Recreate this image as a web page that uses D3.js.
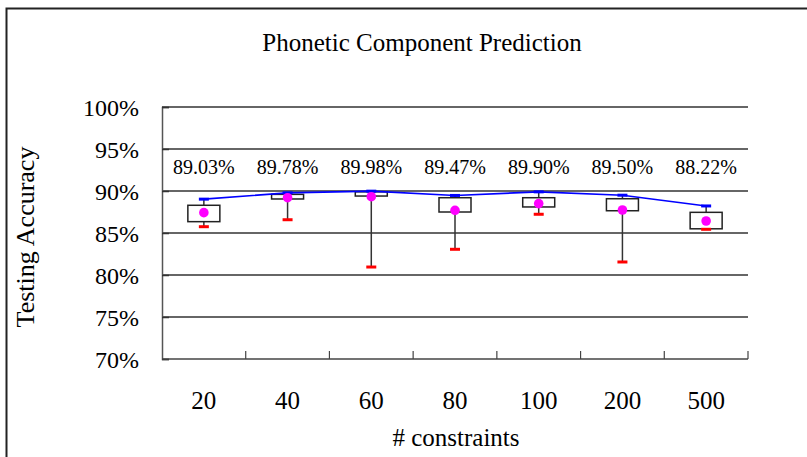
<!DOCTYPE html>
<html><head><meta charset="utf-8">
<script src="https://cdn.jsdelivr.net/npm/d3@7"></script>
<style>body{margin:0;background:#fff}svg{display:block}text{font-family:"Liberation Serif","Times New Roman",serif;fill:#000}</style>
</head><body><svg id="c" width="807" height="457"></svg>
<script>
const categories = ["20","40","60","80","100","200","500"];
const maxVals  = [89.03, 89.78, 89.98, 89.47, 89.90, 89.50, 88.22];
const q3Vals   = [88.30, 89.60, 89.90, 89.20, 89.20, 89.08, 87.46];
const q1Vals   = [86.35, 89.05, 89.40, 87.50, 88.10, 87.65, 85.50];
const meanVals = [87.42, 89.20, 89.32, 87.70, 88.50, 87.74, 86.43];
const minVals  = [85.75, 86.58, 80.95, 83.06, 87.23, 81.55, 85.44];
const labels   = ["89.03%","89.78%","89.98%","89.47%","89.90%","89.50%","88.22%"];
const yTicks   = [70,75,80,85,90,95,100];

const svg = d3.select("#c");
const L=162, R=748, T=107, B=359;
const x = d3.scaleBand().domain(categories).range([L,R]);
const y = d3.scaleLinear().domain([70,100]).range([B,T]);

svg.append("rect").attr("x",6.5).attr("y",8.5).attr("width",810).attr("height",460)
  .attr("fill","none").attr("stroke","#222").attr("stroke-width",2);

// gridlines
svg.append("g").selectAll("line").data(yTicks.slice(1)).join("line")
  .attr("x1",L).attr("x2",R).attr("y1",d=>y(d)).attr("y2",d=>y(d))
  .attr("stroke","#333").attr("stroke-width",1.3);

// y axis
const ya = svg.append("g").attr("transform",`translate(${L},0)`)
  .call(d3.axisLeft(y).tickValues(yTicks).tickFormat(d=>d+"%").tickSize(-7).tickPadding(23));
ya.select(".domain").attr("stroke","#555").attr("stroke-width",1.5);
ya.selectAll(".tick line").attr("stroke","#333").attr("stroke-width",1.5);
ya.selectAll("text").attr("font-size",24).attr("font-family","Liberation Serif").attr("fill","#000").attr("dy","0.34em");

// x axis
svg.append("line").attr("x1",L).attr("x2",R).attr("y1",B).attr("y2",B).attr("stroke","#444").attr("stroke-width",1.5);
const bounds = categories.map(c=>x(c)+x.bandwidth());
svg.append("g").selectAll("line").data(bounds).join("line")
  .attr("x1",d=>d).attr("x2",d=>d).attr("y1",B).attr("y2",B-8).attr("stroke","#444").attr("stroke-width",1.2);
svg.append("g").selectAll("text").data(categories).join("text")
  .attr("x",d=>x(d)+x.bandwidth()/2).attr("y",409).attr("text-anchor","middle")
  .attr("font-size",25).text(d=>d);

const cx = i => x(categories[i])+x.bandwidth()/2;
const idx = d3.range(categories.length);
const bw = 32, cap = 10;

// whiskers
svg.append("g").selectAll("line").data(idx).join("line")
  .attr("x1",cx).attr("x2",cx).attr("y1",i=>y(maxVals[i])).attr("y2",i=>y(minVals[i]))
  .attr("stroke","#333").attr("stroke-width",1.5);
// boxes
svg.append("g").selectAll("rect").data(idx).join("rect")
  .attr("x",i=>cx(i)-bw/2).attr("width",bw)
  .attr("y",i=>y(q3Vals[i])).attr("height",i=>y(q1Vals[i])-y(q3Vals[i]))
  .attr("fill","#fff").attr("stroke","#222").attr("stroke-width",1.5);
// blue line
svg.append("path").datum(idx)
  .attr("d",d3.line().x(cx).y(i=>y(maxVals[i])))
  .attr("fill","none").attr("stroke","#0000ff").attr("stroke-width",1.6);
// blue caps
svg.append("g").selectAll("line").data(idx).join("line")
  .attr("x1",i=>cx(i)-cap/2).attr("x2",i=>cx(i)+cap/2)
  .attr("y1",i=>y(maxVals[i])).attr("y2",i=>y(maxVals[i]))
  .attr("stroke","#0000ff").attr("stroke-width",3);
// red caps
svg.append("g").selectAll("line").data(idx).join("line")
  .attr("x1",i=>cx(i)-cap/2).attr("x2",i=>cx(i)+cap/2)
  .attr("y1",i=>y(minVals[i])).attr("y2",i=>y(minVals[i]))
  .attr("stroke","#ff0000").attr("stroke-width",3);
// mean dots
svg.append("g").selectAll("circle").data(idx).join("circle")
  .attr("cx",cx).attr("cy",i=>y(meanVals[i])).attr("r",4.8).attr("fill","#ff00ff");
// labels
svg.append("g").selectAll("text").data(idx).join("text")
  .attr("x",cx).attr("y",y(92.0)).attr("text-anchor","middle").attr("font-size",20)
  .text(i=>labels[i]);

// titles
svg.append("text").attr("x",422).attr("y",51).attr("text-anchor","middle").attr("font-size",25)
  .text("Phonetic Component Prediction");
svg.append("text").attr("x",456).attr("y",446).attr("text-anchor","middle").attr("font-size",25)
  .text("# constraints");
svg.append("text").attr("transform","translate(34,237) rotate(-90)").attr("text-anchor","middle").attr("font-size",26)
  .text("Testing Accuracy");
</script></body></html>
